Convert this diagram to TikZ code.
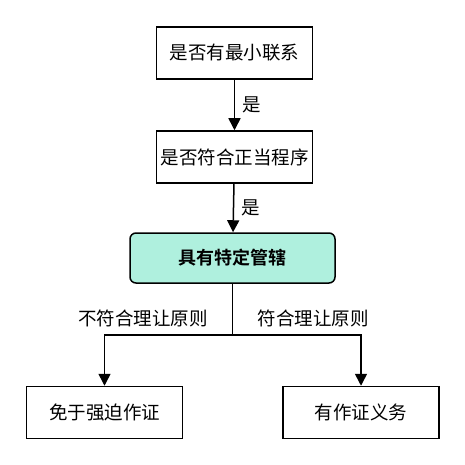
\documentclass[tikz,border=0pt]{standalone}
\usepackage{fontspec}
\newfontfamily\cjk{Noto Sans CJK SC}
\newfontfamily\cjkb{Noto Sans CJK SC Bold}
\usetikzlibrary{arrows.meta}
\definecolor{teal1}{RGB}{175,240,222}
\begin{document}
\begin{tikzpicture}[x=1pt,y=-1pt,
  box/.style={draw,line width=1.5pt,minimum width=156pt,minimum height=52pt,font=\cjk\fontsize{18.5}{22}\selectfont,inner sep=0pt},
  keybox/.style={box,rounded corners=6pt,fill=teal1,minimum width=205pt,minimum height=50pt,font=\cjkb\fontsize{18}{22}\selectfont},
  lbl/.style={font=\cjk\fontsize{18.5}{22}\selectfont,inner sep=0pt},
  conn/.style={line width=1.5pt,-{Triangle[length=12pt,width=12pt]}},
  plain/.style={line width=1.5pt}]
\useasboundingbox (0,0) rectangle (465,465);
\node[box] (b1) at (234.5,53) {是否有最小联系};
\node[box] (b2) at (234.5,157) {是否符合正当程序};
\node[keybox] (b3) at (232.5,258) {具有特定管辖};
\node[box] (b4) at (104.5,412.5) {免于强迫作证};
\node[box] (b5) at (361,412.5) {有作证义务};
\coordinate (j) at (b3.south |- 0,335);
\coordinate (jl) at (b4.north |- 0,335);
\coordinate (jr) at (b5.north |- 0,335);
\draw[conn] (b1) -- (b2) node[lbl,midway,right=7pt] {是};
\draw[conn] (b2) -- (b3) node[lbl,midway,right=7pt] {是};
\draw[plain] (b3.south) -- (j);
\draw[conn] (j) -- (jl) -- (b4.north);
\draw[conn] (j) -- (jr) -- (b5.north);
\node[lbl] (l1) at (143,318) {不符合理让原则};
\node[lbl] (l2) at (313,318) {符合理让原则};
\end{tikzpicture}
\end{document}
